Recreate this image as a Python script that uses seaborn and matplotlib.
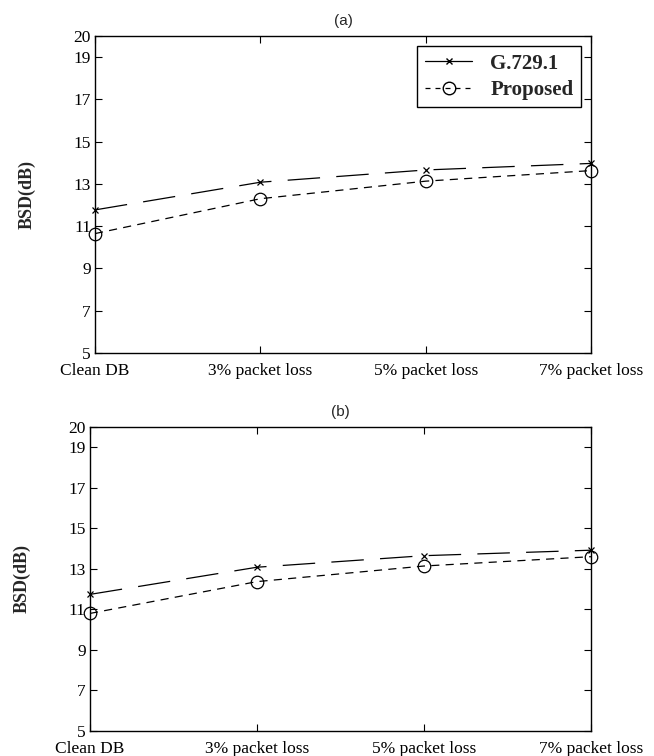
import matplotlib
matplotlib.use("Agg")
import matplotlib.pyplot as plt
import pandas as pd
import seaborn as sns
from matplotlib.lines import Line2D

categories = ["Clean DB", "3% packet loss", "5% packet loss", "7% packet loss"]
g7291_a = [11.77, 13.08, 13.66, 13.97]
proposed_a = [10.65, 12.30, 13.13, 13.63]
g7291_b = [11.74, 13.08, 13.65, 13.92]
proposed_b = [10.80, 12.37, 13.14, 13.60]
y_ticks = [5, 7, 9, 11, 13, 15, 17, 19, 20]

series_names = ["G.729.1", "Proposed"]

sns.set_style("ticks")
plt.rcParams["font.family"] = ["Liberation Serif", "DejaVu Serif"]

fig = plt.figure(figsize=(6.54, 7.56), dpi=100)
ax_a = fig.add_axes([0.1453, 0.5331, 0.7584, 0.4193])
ax_b = fig.add_axes([0.1376, 0.0331, 0.766, 0.4021])

for ax, g, p, title in [(ax_a, g7291_a, proposed_a, "(a)"),
                        (ax_b, g7291_b, proposed_b, "(b)")]:
    df = pd.DataFrame({"condition": categories, "G.729.1": g, "Proposed": p})
    sns.lineplot(data=df, x="condition", y="G.729.1", color="black",
                 linewidth=0.9, marker="x", markersize=5,
                 markeredgecolor="black", markeredgewidth=0.9, ax=ax)
    ax.lines[-1].set_dashes((26, 13))
    ax.lines[-1].set_clip_on(False)
    sns.lineplot(data=df, x="condition", y="Proposed", color="black",
                 linewidth=0.9, marker="o", markersize=9,
                 markerfacecolor="none", markeredgecolor="black",
                 markeredgewidth=0.9, ax=ax)
    ax.lines[-1].set_dashes((6.5, 5))
    ax.lines[-1].set_clip_on(False)
    ax.set_xlim(0, 3)
    ax.set_ylim(5, 20)
    ax.set_yticks(y_ticks)
    ax.set_yticklabels([str(t) for t in y_ticks])
    ax.set_xticks(range(len(categories)))
    ax.set_xticklabels(categories)
    ax.tick_params(direction="in", top=True, right=True, length=5, width=0.8,
                   labelsize=12.5, colors="black", pad=3)
    ax.tick_params(axis="x", pad=7)
    for s in ax.spines.values():
        s.set_visible(True)
        s.set_linewidth(1.0)
        s.set_color("black")
    ax.set_xlabel("")
    ax.set_ylabel("BSD(dB)", fontweight="bold", fontsize=13, labelpad=27)
    ax.set_title(title, family="Liberation Sans", fontsize=11, pad=8)

handles = [
    Line2D([], [], color="black", linestyle="-", linewidth=0.9, marker="x",
           markersize=5),
    Line2D([], [], color="black", linestyle=(0, (4, 4)), linewidth=0.9, marker="o",
           markersize=9, markerfacecolor="none"),
]
leg = ax_a.legend(handles, series_names, loc="upper right", fancybox=False,
                  framealpha=1, edgecolor="black", handlelength=2.3,
                  handletextpad=0.85, borderaxespad=0.5,
                  prop={"weight": "bold", "size": 15},
                  labelspacing=0.3, borderpad=0.35)
leg.get_frame().set_linewidth(1.0)

fig.savefig("out.png", dpi=100)
